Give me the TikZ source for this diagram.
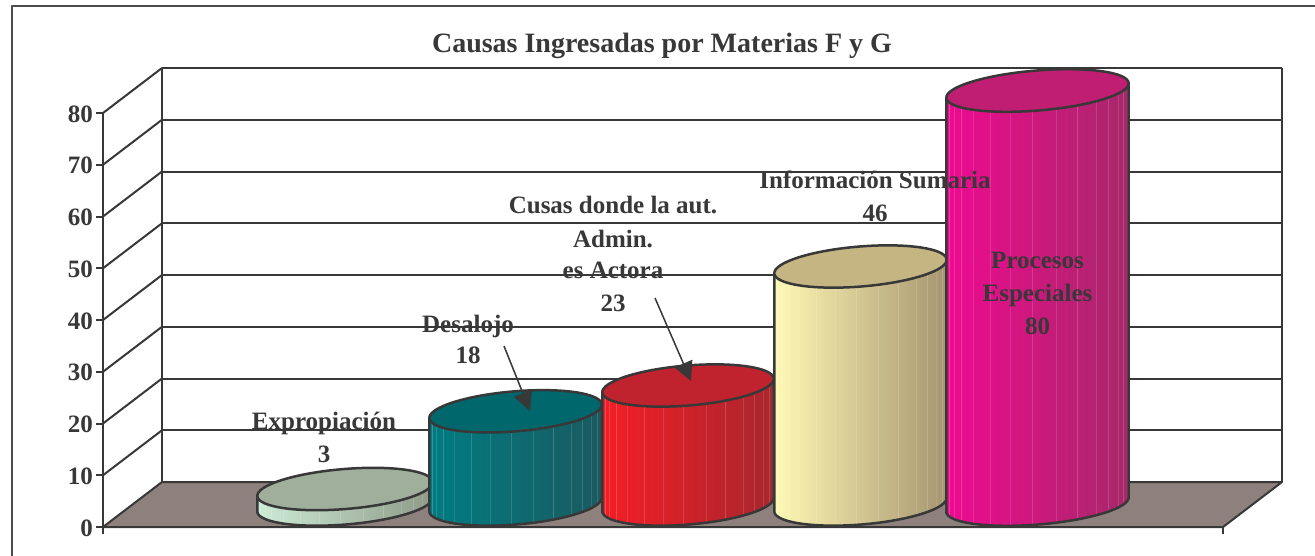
\documentclass[tikz,border=0pt]{standalone}
\usepackage{fontspec}
\setmainfont{Liberation Serif}
\usetikzlibrary{arrows.meta}
\definecolor{ink}{HTML}{383838}
\definecolor{floorc}{HTML}{8E817D}
\definecolor{cal}{HTML}{CDEBD6}\definecolor{cam}{HTML}{B3C6B0}\definecolor{car}{HTML}{8E9A88}\definecolor{cat}{HTML}{A0AE9C}
\definecolor{cbl}{HTML}{007C82}\definecolor{cbm}{HTML}{006A70}\definecolor{cbr}{HTML}{1A5A60}\definecolor{cbt}{HTML}{00676C}
\definecolor{ccl}{HTML}{F41E26}\definecolor{ccm}{HTML}{D81F2A}\definecolor{ccr}{HTML}{A8262E}\definecolor{cct}{HTML}{C0222E}
\definecolor{cdl}{HTML}{FFF8B4}\definecolor{cdm}{HTML}{D9CC96}\definecolor{cdr}{HTML}{A69570}\definecolor{cdt}{HTML}{C4B583}
\definecolor{cel}{HTML}{EE0A90}\definecolor{cem}{HTML}{C8197A}\definecolor{cer}{HTML}{A8286A}\definecolor{cet}{HTML}{C01E72}
\tikzset{
  frameline/.style={draw=ink!90, line width=2},
  gridline/.style={draw=ink, line width=2},
  cylline/.style={draw=ink, line width=2.5},
  lbl/.style={font=\fontsize{25}{30}\selectfont\bfseries, text=ink, anchor=base, inner sep=0},
  axlbl/.style={font=\fontsize{25}{30}\selectfont\bfseries, text=ink, anchor=base east, inner sep=0},
  ttl/.style={font=\fontsize{28}{33}\selectfont\bfseries, text=ink, anchor=base, inner sep=0},
  lblarrow/.style={draw=ink, line width=1.5, -{Triangle[length=19pt, width=19pt]}}
}
% #1 cx, #2 base y (px down), #3 semi-axis a, #4 height, #5 left, #6 mid, #7 right, #8 top colour
\newcommand\cylnd[8]{%
  \pgfmathsetmacro\cyX{#1}%
  \pgfmathsetmacro\cyB{-#2}%
  \pgfmathsetmacro\cyH{#4}%
  \pgfmathsetmacro\cyT{-#2+#4}%
  \pgfmathsetmacro\cyA{#3}%
  \pgfmathsetmacro\cyBb{20}%
  \pgfmathsetmacro\cyTh{4.7}%
  \pgfmathsetmacro\cyDx{\cyA*cos(\cyTh)}%
  \pgfmathsetmacro\cyDy{\cyA*sin(\cyTh)}%
  \shade[left color=#5, middle color=#6, right color=#7]
    plot[domain=180:360, samples=60, variable=\t]
      ({\cyX + \cyA*cos(\t)*cos(\cyTh) - \cyBb*sin(\t)*sin(\cyTh)},
       {\cyB + \cyA*cos(\t)*sin(\cyTh) + \cyBb*sin(\t)*cos(\cyTh)})
    -- (\cyX+\cyDx, \cyT+\cyDy) -- (\cyX-\cyDx, \cyT-\cyDy) -- cycle;
  \foreach \s/\o in {194/.2,203/.15,212/.18,224/.12,238/.15,252/.12,266/.15,281/.12,295/.18,309/.12,320/.15,331/.12,340/.15,348/.12,355/.12}{%
    \draw[white, opacity=\o, line width=0.8]
      ({\cyX + \cyA*cos(\s)*cos(\cyTh) - \cyBb*sin(\s)*sin(\cyTh)},
       {\cyB + \cyA*cos(\s)*sin(\cyTh) + \cyBb*sin(\s)*cos(\cyTh)}) -- ++(0,\cyH);
  }
  \draw[cylline] (\cyX-\cyDx, \cyT-\cyDy) --
    plot[domain=180:360, samples=60, variable=\t]
      ({\cyX + \cyA*cos(\t)*cos(\cyTh) - \cyBb*sin(\t)*sin(\cyTh)},
       {\cyB + \cyA*cos(\t)*sin(\cyTh) + \cyBb*sin(\t)*cos(\cyTh)})
    -- (\cyX+\cyDx, \cyT+\cyDy);
  \filldraw[cylline, fill=#8, rotate around={\cyTh:(\cyX,\cyT)}]
    (\cyX,\cyT) ellipse [x radius=\cyA, y radius=\cyBb];
}
\begin{document}
\begin{tikzpicture}[x=1pt, y=1pt, line join=round]
\useasboundingbox[fill=white] (0,0) rectangle (1315,-555);
% outer frame
\draw[frameline] (12,-560) -- (12,-6) -- (1320,-6);
% title
\node[ttl] (title) at (662,-52) {Causas Ingresadas por Materias F y G};
% back wall grid
\foreach \k in {1,...,8}{
  \draw[gridline] (162,{-482+51.75*\k}) -- (1282,{-482+51.75*\k});
  \draw[gridline] (103,{-527+51.75*\k}) -- (162,{-482+51.75*\k});
}
\draw[gridline] (162,-482) -- (162,-68);
\draw[gridline] (1282,-482) -- (1282,-68);
% floor
\filldraw[gridline, fill=floorc] (103,-527) -- (1223,-527) -- (1282,-482) -- (162,-482) -- cycle;
\draw[gridline] (1223,-527) -- (1223,-534);
% front axis, ticks, labels
\draw[gridline] (103,-534) -- (103,-113);
\foreach \v [count=\i from 0] in {0,10,20,30,40,50,60,70,80}{
  \draw[gridline] (96,{-527+51.75*\i}) -- (103,{-527+51.75*\i});
  \node[axlbl] (ax\i) at (93,{-527+51.75*\i-9}) {\v};
}
% cylinders
\cylnd{345}{504.5}{88}{15.5}{cal}{cam}{car}{cat}
\cylnd{515.5}{504.5}{86.5}{93.2}{cbl}{cbm}{cbr}{cbt}
\cylnd{688}{504.5}{86}{119}{ccl}{ccm}{ccr}{cct}
\cylnd{860.5}{504.5}{86.5}{238}{cdl}{cdm}{cdr}{cdt}
\cylnd{1037.5}{504.5}{91.5}{414}{cel}{cem}{cer}{cet}
% data labels
\node[lbl] (lexp1) at (324,-429) {Expropiación};
\node[lbl] (lexp2) at (324,-462) {3};
\node[lbl] (ldes1) at (468,-332) {Desalojo};
\node[lbl] (ldes2) at (468,-363) {18};
\node[lbl] (lcau1) at (613,-213) {Cusas donde la aut.};
\node[lbl] (lcau2) at (613,-247) {Admin.};
\node[lbl] (lcau3) at (613,-278) {es Actora};
\node[lbl] (lcau4) at (613,-311) {23};
\node[lbl] (linf1) at (875,-188) {Información Sumaria};
\node[lbl] (linf2) at (875,-221) {46};
\node[lbl] (lpro1) at (1037.5,-268) {Procesos};
\node[lbl] (lpro2) at (1037.5,-301) {Especiales};
\node[lbl] (lpro3) at (1037.5,-334) {80};
% label arrows
\coordinate (dA) at (504,-346);
\coordinate (dB) at (530,-411);
\coordinate (cA) at (655,-298);
\coordinate (cB) at (691,-381);
\draw[lblarrow] (dA) -- (dB);
\draw[lblarrow] (cA) -- (cB);
\end{tikzpicture}
\end{document}
